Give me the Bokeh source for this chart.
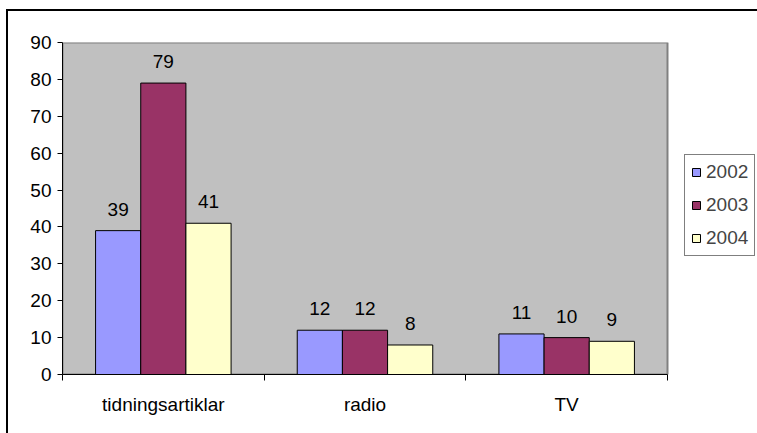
from bokeh.plotting import figure
from bokeh.models import FixedTicker, Legend, LegendItem, ColumnDataSource, Range1d
from bokeh.embed import file_html
from bokeh.resources import INLINE

categories = ["tidningsartiklar", "radio", "TV"]
years = ["2002", "2003", "2004"]
v2002 = [39, 12, 11]
v2003 = [79, 12, 10]
v2004 = [41, 8, 9]
colors = ["#9999FF", "#993366", "#FFFFCC"]
y_ticks = [0, 10, 20, 30, 40, 50, 60, 70, 80, 90]

FONT = "Liberation Sans"
W, H = 757, 433
n = len(categories)
ymax = max(y_ticks)
# frame spans the plot area plus the legend strip on the right
x_end = n * (W - 62) / 605.0
p = figure(width=W, height=H, output_backend="svg", toolbar_location=None,
           x_range=Range1d(0, x_end), y_range=Range1d(0, ymax),
           min_border_left=62, min_border_right=0, min_border_top=42, min_border_bottom=59)
p.background_fill_color = "white"
p.border_fill_color = "white"
p.border_fill_alpha = 0
p.background_fill_alpha = 0
p.outline_line_color = None
p.grid.visible = False
p.styles = {"box-shadow": "inset 6px 9px 0px 0px white, inset 8px 11px 0px 0px black",
            "background-color": "white"}

# grey plot area
p.quad(left=[0], right=[n], bottom=[0], top=[ymax], fill_color="#C0C0C0",
       line_color="#808080", line_width=2)

bw = 0.224
series = [v2002, v2003, v2004]
renderers = []
for j, vals in enumerate(series):
    xs = [i + 0.5 + (j - 1) * bw for i in range(n)]
    src = ColumnDataSource(dict(x=xs, top=vals, lab=[str(v) for v in vals]))
    r = p.vbar(x="x", top="top", width=bw, source=src, fill_color=colors[j],
               line_color="black", line_width=1)
    renderers.append(r)
    p.text(x="x", y="top", text="lab", source=src, text_align="center",
           text_baseline="bottom", y_offset=-15, text_font_size="19px",
           text_color="black", text_font={"value": FONT})

# axes
p.yaxis.ticker = FixedTicker(ticks=y_ticks)
p.yaxis.major_tick_out = 5
p.yaxis.major_tick_in = 0
p.yaxis.minor_tick_out = 0
p.yaxis.minor_tick_in = 0
p.yaxis.axis_line_color = "black"
p.yaxis.major_label_text_font = FONT
p.yaxis.major_label_text_font_size = "19px"
p.yaxis.major_label_text_color = "black"
p.yaxis.major_label_standoff = 6

p.xaxis.bounds = (0, n)
p.xaxis.ticker = FixedTicker(ticks=[i + 0.5 for i in range(n)],
                             minor_ticks=list(range(n + 1)))
p.xaxis.major_label_overrides = {i + 0.5: c for i, c in enumerate(categories)}
p.xaxis.major_tick_out = 0
p.xaxis.major_tick_in = 0
p.xaxis.minor_tick_out = 6
p.xaxis.minor_tick_in = 0
p.xaxis.axis_line_color = "black"
p.xaxis.major_label_text_font = FONT
p.xaxis.major_label_text_font_size = "19px"
p.xaxis.major_label_text_color = "black"
p.xaxis.major_label_standoff = 13

legend = Legend(items=[LegendItem(label=y, renderers=[r]) for y, r in zip(years, renderers)],
                location=(622, 118))
legend.glyph_width = 10
legend.glyph_height = 10
legend.label_text_font = FONT
legend.label_text_font_size = "19px"
legend.label_standoff = 5
legend.spacing = 11
legend.padding = 6
legend.border_line_color = "black"
legend.border_line_width = 1
legend.background_fill_color = "white"
legend.background_fill_alpha = 1
legend.margin = 0
p.add_layout(legend)

open("out.html", "w").write(file_html(p, INLINE))
